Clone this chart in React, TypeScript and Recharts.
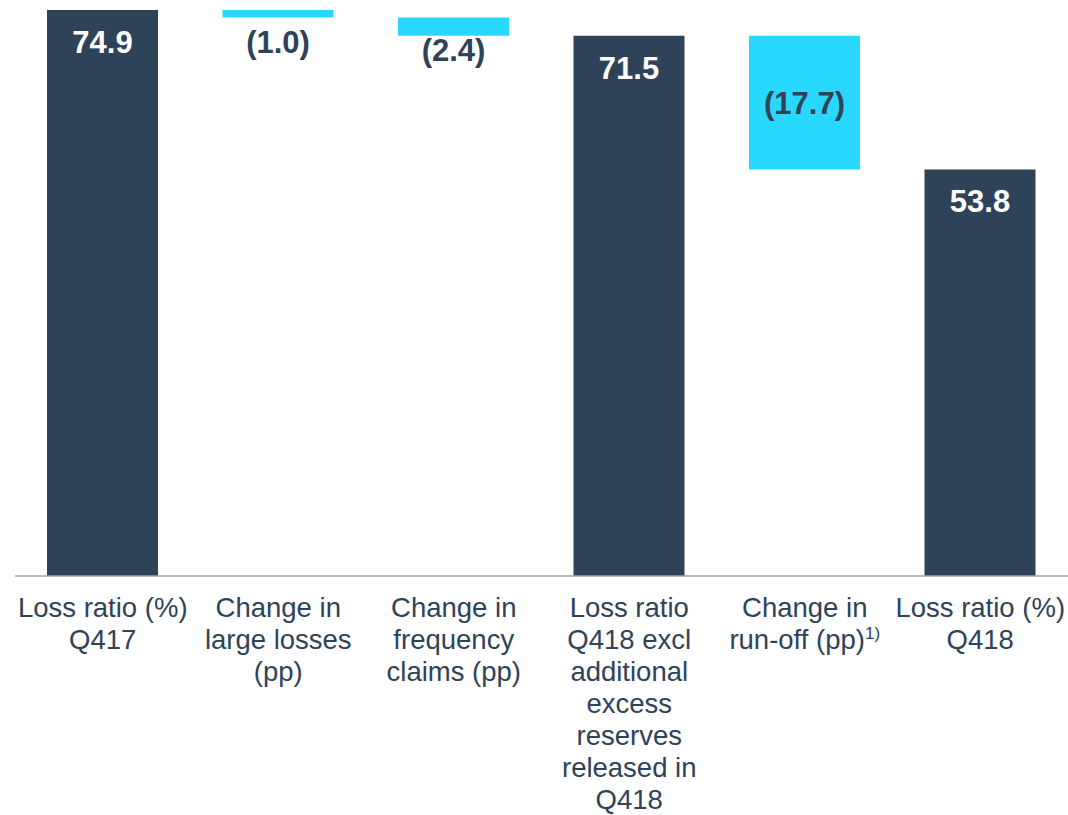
import React from 'react';
import { BarChart, Bar, XAxis, YAxis, Cell, LabelList } from 'recharts';

const categories = [
  ['Loss ratio (%)', 'Q417'],
  ['Change in', 'large losses', '(pp)'],
  ['Change in', 'frequency', 'claims (pp)'],
  ['Loss ratio', 'Q418 excl', 'additional', 'excess', 'reserves', 'released in', 'Q418'],
  ['Change in', 'run-off (pp)'],
  ['Loss ratio (%)', 'Q418'],
];
const values = [74.9, -1.0, -2.4, 71.5, -17.7, 53.8];
const kinds = ['total', 'delta', 'delta', 'total', 'delta', 'total'];
const valueLabels = ['74.9', '(1.0)', '(2.4)', '71.5', '(17.7)', '53.8'];
const footnotes = ['', '', '', '', '1)', ''];

const DARK = '#2e4357';
const CYAN = '#29d8ff';
const FONT = '"Liberation Sans", Arial, sans-serif';

let running = 0;
const data = categories.map((c, i) => {
  let base = 0;
  let span = values[i];
  if (kinds[i] === 'total') {
    running = values[i];
  } else {
    const next = running + values[i];
    base = Math.min(running, next);
    span = Math.abs(values[i]);
    running = next;
  }
  return { name: String(i), lines: c, base, span, kind: kinds[i], label: valueLabels[i], note: footnotes[i] };
});

const CategoryTick = (props: any) => {
  const { x, y, payload } = props;
  const d = data[Number(payload.value)];
  return (
    <text x={x} y={y} textAnchor="middle" fontFamily={FONT} fontSize={27.5} fill={DARK}>
      {d.lines.map((l: string, k: number) => (
        <tspan key={k} x={x} y={y + 41 + k * 32}>
          {l}
          {k === d.lines.length - 1 && d.note ? (
            <tspan fontSize={17} dy={-10}>{d.note}</tspan>
          ) : null}
        </tspan>
      ))}
    </text>
  );
};

const ValueLabel = (props: any) => {
  const { x, y, width, height, index } = props;
  const d = data[index];
  const isTotal = d.kind === 'total';
  const cy = !isTotal && height > 60 ? y + height / 2 : y + 32;
  return (
    <text
      x={x + width / 2}
      y={cy}
      dy={11}
      textAnchor="middle"
      fontFamily={FONT}
      fontWeight="bold"
      fontSize={31}
      fill={isTotal ? '#ffffff' : DARK}
    >
      {d.label}
    </text>
  );
};

export default function App() {
  return (
    <div style={{ position: 'absolute', left: 0, top: 0, background: '#fff' }}>
      <BarChart width={1068} height={815} data={data} margin={{ top: 10, right: 0, left: 15, bottom: 0 }}>
        <XAxis
          dataKey="name"
          height={239}
          tickLine={false}
          tickSize={0}
          tickMargin={0}
          axisLine={{ stroke: '#a0a4a8', strokeWidth: 1.5 }}
          tick={<CategoryTick />}
          interval={0}
        />
        <YAxis hide domain={[0, 74.9]} />
        <Bar dataKey="base" stackId="a" fill="transparent" barSize={111} isAnimationActive={false} />
        <Bar dataKey="span" stackId="a" barSize={111} isAnimationActive={false}>
          {data.map((d, i) => (
            <Cell key={i} fill={d.kind === 'total' ? DARK : CYAN} />
          ))}
          <LabelList dataKey="span" content={<ValueLabel />} />
        </Bar>
      </BarChart>
    </div>
  );
}
